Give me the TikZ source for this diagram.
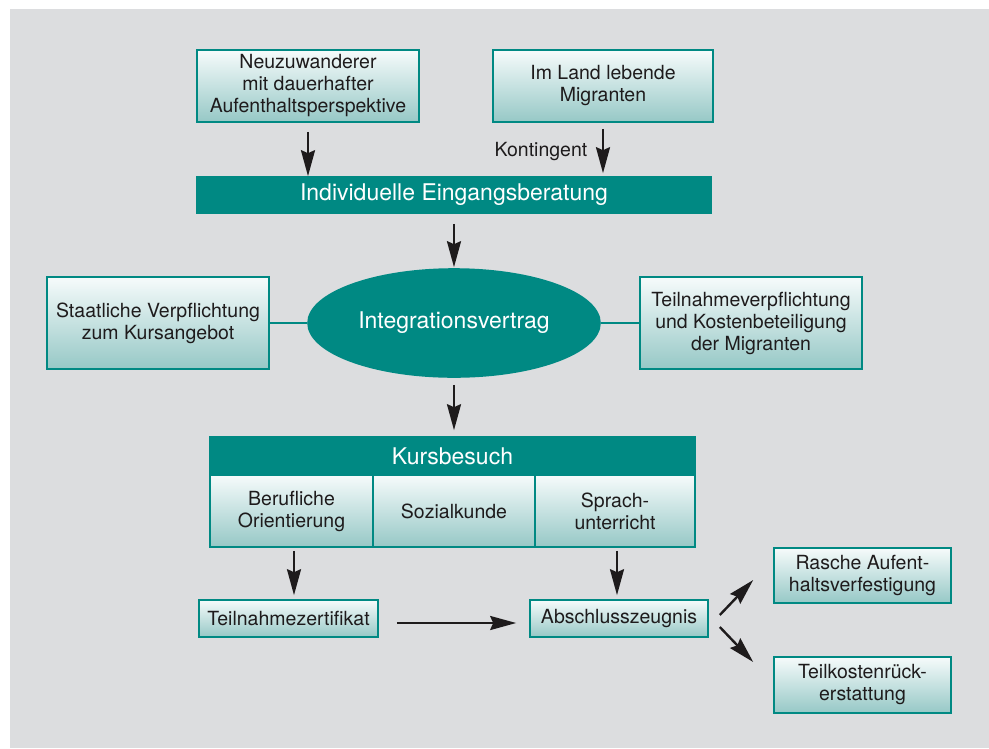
\documentclass[tikz,border=0pt]{standalone}
\usepackage{fontspec}
\setmainfont{TeX Gyre Heros}
\usetikzlibrary{shapes.geometric,arrows.meta}
\definecolor{kteal}{RGB}{0,137,131}
\definecolor{boxtop}{RGB}{246,251,251}
\definecolor{boxbot}{RGB}{150,200,198}
\definecolor{ktext}{RGB}{30,27,28}
\definecolor{bggray}{RGB}{220,221,223}
\begin{document}
\begin{tikzpicture}[x=1pt,y=-1pt,
		box/.style={draw=kteal, line width=1.6pt, top color=boxtop, bottom color=boxbot,
			text=ktext, align=center, inner sep=0pt, font=\fontsize{19.5}{22}\selectfont},
		bar/.style={fill=kteal, draw=kteal, line width=1.6pt, text=white, inner sep=0pt,
			font=\fontsize{23}{26}\selectfont},
		arr/.style={-{Stealth[length=26pt,width=14pt,inset=3pt]}, line width=2.4pt, draw=ktext},
		link/.style={draw=kteal, line width=1.6pt}]
	\useasboundingbox (0,0) rectangle (989,748);
	\fill[bggray] (10,9) rectangle (989,748);
	% top row
	\node	(a) at (308,86) [box, minimum width=222, minimum height=72] {Neuzuwanderer\\mit dauerhafter\\Aufenthaltsperspektive};
	\node	(b) at (603,86) [box, minimum width=220, minimum height=72] {Im Land lebende\\Migranten};
	\node	(kt) at (541,152) [text=ktext, font=\fontsize{19.5}{22}\selectfont] {Kontingent};
	\node	(c) at (454,195) [bar, minimum width=514, minimum height=36] {Individuelle Eingangsberatung};
	% contract
	\node	(d) at (454,323) [ellipse, bar, minimum width=292, minimum height=108] {Integrationsvertrag};
	\node	(e) at (158,323) [box, minimum width=222, minimum height=92] {Staatliche Verpflichtung\\zum Kursangebot};
	\node	(f) at (751,323) [box, minimum width=222, minimum height=92] {Teilnahmeverpflichtung\\und Kostenbeteiligung\\der Migranten};
	% course block
	\node	(g) at (452.5,456) [bar, minimum width=485, minimum height=38] {Kursbesuch};
	\node	(h1) at (291.5,511) [box, minimum width=163, minimum height=72] {Berufliche\\Orientierung};
	\node	(h2) at (454,511) [box, minimum width=162, minimum height=72] {Sozialkunde};
	\node	(h3) at (615,511) [box, minimum width=160, minimum height=72] {Sprach-\\unterricht};
	% results
	\node	(i) at (288.5,618.5) [box, minimum width=179, minimum height=37] {Teilnahmezertifikat};
	\node	(j) at (619,618.5) [box, minimum width=178, minimum height=37] {Abschlusszeugnis};
	\node	(k) at (862.5,575.5) [box, minimum width=177, minimum height=55] {Rasche Aufent-\\haltsverfestigung};
	\node	(l) at (862.5,685) [box, minimum width=177, minimum height=56] {Teilkostenrück-\\erstattung};
	\draw
	(a.south) edge[arr, shorten <=9pt] (a.south |- c.north)
	(b.south) edge[arr, shorten <=6pt, shorten >=3pt] (b.south |- c.north)
	(c.south) edge[arr, shorten <=10pt, shorten >=1pt] (d.north)
	(d.south) edge[arr, shorten <=7pt, shorten >=6pt] (d.south |- g.north)
	(e.east) edge[link] (d.west)
	(d.east) edge[link] (f.east -| f.west)
	(h1.south -| 294,0) edge[arr, shorten <=3pt, shorten >=4pt] (i.north -| 294,0)
	(h3.south -| 617,0) edge[arr, shorten <=3pt, shorten >=4pt] (j.north -| 617,0)
	([yshift=-4.5pt]i.east) edge[arr, shorten <=18pt, shorten >=13pt] ([yshift=-4.5pt]j.west)
	([xshift=11pt,yshift=3.5pt]j.east) edge[arr] ([xshift=-20pt,yshift=-4.5pt]k.west)
	([xshift=11pt,yshift=-8.5pt]j.east) edge[arr] ([xshift=-20pt,yshift=23pt]l.west)
	;
\end{tikzpicture}
\end{document}
